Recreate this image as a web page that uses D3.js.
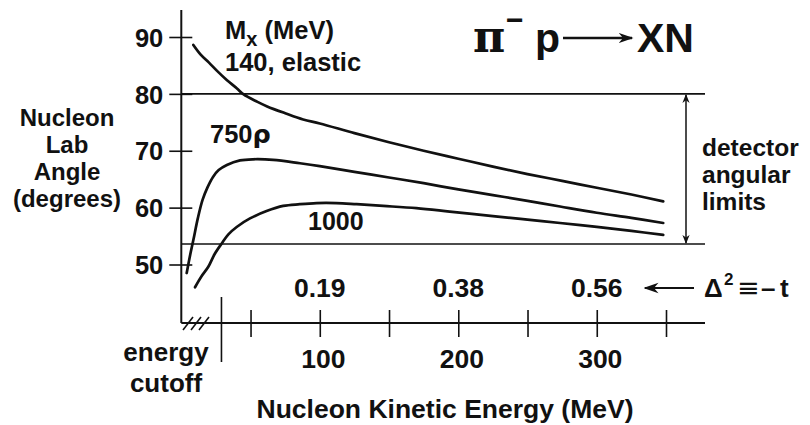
<!DOCTYPE html>
<html>
<head>
<meta charset="utf-8">
<script src="https://cdn.jsdelivr.net/npm/d3@7"></script>
<style>
  body { margin: 0; background: #fff; }
  svg text { font-family: "Liberation Sans", Arial, Helvetica, sans-serif; font-weight: bold; fill: #111; }
</style>
</head>
<body>
<svg id="chart" width="810" height="425"></svg>
<script>
// Recoil nucleon lab angle vs. kinetic energy for pi- p -> X N
const angleTicks = [50, 60, 70, 80, 90];
const energyTicks = [50, 100, 150, 200, 250, 300, 350];
const energyLabels = [100, 200, 300];
const tEnergies = [100, 200, 300];
const tLabels = ["0.19", "0.38", "0.56"];
const detectorLimits = [53.6, 80];
const energyCutoff = 29;

// M_x = 140 MeV (elastic)
const elasticEnergy = [8.7, 14, 20, 26, 33, 40, 45, 55, 62, 75, 88, 100, 125, 150, 175, 200, 225, 250, 275, 300, 325, 348];
const elasticAngle  = [88.6, 86.9, 85.5, 84.0, 82.4, 81.0, 79.9, 78.6, 77.8, 76.6, 75.5, 74.8, 73.1, 71.5, 70.0, 68.6, 67.2, 65.9, 64.7, 63.5, 62.3, 61.1];
// M_x = 750 MeV (rho)
const rhoEnergy = [3.9, 6.5, 8.7, 12, 15.4, 19, 22.9, 27, 32.9, 42.4, 51.8, 66.3, 85.7, 100, 125, 150, 175, 200, 225, 250, 273.5, 300, 325, 348];
const rhoAngle  = [48.5, 51.8, 54.3, 58.2, 61.4, 63.6, 65.4, 66.6, 67.5, 68.3, 68.5, 68.4, 67.8, 67.3, 66.3, 65.3, 64.3, 63.2, 62.2, 61.2, 60.2, 59.1, 58.2, 57.3];
// M_x = 1000 MeV
const m1000Energy = [9.9, 14.5, 19.5, 24, 29.2, 34, 40, 49.6, 61.6, 73.6, 85.6, 97.7, 112, 126.6, 145.8, 169.8, 193.8, 225, 250, 273.5, 300, 325, 348];
const m1000Angle  = [46.0, 47.9, 49.6, 51.8, 53.7, 55.3, 56.6, 58.1, 59.4, 60.3, 60.6, 60.8, 60.8, 60.6, 60.3, 59.9, 59.3, 58.5, 57.9, 57.3, 56.6, 55.9, 55.2];

const yTitleLines = ["Nucleon", "Lab", "Angle", "(degrees)"];
const detectorLines = ["detector", "angular", "limits"];
const cutoffLines = ["energy", "cutoff"];

const series = [
  { energy: elasticEnergy, angle: elasticAngle },
  { energy: rhoEnergy, angle: rhoAngle },
  { energy: m1000Energy, angle: m1000Angle }
];

const svg = d3.select("#chart");
const ink = "#111";
const sans = '"Liberation Sans", Arial, sans-serif';

const x = d3.scaleLinear().domain([0, 350]).range([181.3, 666]);
const y = d3.scaleLinear().domain([50, 90]).range([264.5, 37]);

const axisTop = 10, axisBottom = 323, axisRight = 705;

// axis frame
svg.append("line").attr("x1", x(0)).attr("x2", x(0)).attr("y1", axisTop).attr("y2", axisBottom)
  .attr("stroke", ink).attr("stroke-width", 2);
svg.append("line").attr("x1", x(0)).attr("x2", axisRight).attr("y1", axisBottom).attr("y2", axisBottom)
  .attr("stroke", ink).attr("stroke-width", 1.8);

// y axis ticks and labels
const gy = svg.append("g").attr("transform", `translate(${x(0)},0)`)
  .call(d3.axisLeft(y).tickValues(angleTicks).tickSizeOuter(0));
gy.select(".domain").remove();
gy.selectAll(".tick line").attr("x1", -12).attr("x2", 11).attr("stroke", ink).attr("stroke-width", 1.6);
gy.selectAll(".tick text").attr("x", -18).attr("dy", "0.36em")
  .attr("font-size", 25.5).attr("fill", ink)
  .style("font-family", sans).style("font-weight", "bold");

// x axis ticks and labels
const gx = svg.append("g").attr("transform", `translate(0,${axisBottom})`)
  .call(d3.axisBottom(x).tickValues(energyTicks).tickSizeOuter(0)
    .tickFormat(d => energyLabels.includes(d) ? d : ""));
gx.select(".domain").remove();
gx.selectAll(".tick line").attr("y1", -13).attr("y2", 14).attr("stroke", ink).attr("stroke-width", 1.6);
gx.selectAll(".tick text").attr("y", 45).attr("dy", 0).attr("dx", 3)
  .attr("font-size", 26.5).attr("fill", ink)
  .style("font-family", sans).style("font-weight", "bold");

// energy cutoff marker and hatching on the suppressed part of the axis
svg.append("line").attr("x1", x(energyCutoff)).attr("x2", x(energyCutoff))
  .attr("y1", 297).attr("y2", 362).attr("stroke", ink).attr("stroke-width", 1.6);
[0, 1, 2].forEach(i => {
  const cx = 188 + i * 8;
  svg.append("line").attr("x1", cx - 5).attr("y1", axisBottom + 7).attr("x2", cx + 5).attr("y2", axisBottom - 6)
    .attr("stroke", ink).attr("stroke-width", 1.6);
});

// detector angular limits
detectorLimits.forEach(a => {
  svg.append("line").attr("x1", x(0)).attr("x2", axisRight).attr("y1", y(a)).attr("y2", y(a))
    .attr("stroke", ink).attr("stroke-width", 1.6);
});

const defs = svg.append("defs");
defs.append("marker").attr("id", "head").attr("viewBox", "0 0 10 10")
  .attr("refX", 9).attr("refY", 5).attr("markerWidth", 9).attr("markerHeight", 9)
  .attr("markerUnits", "userSpaceOnUse").attr("orient", "auto-start-reverse")
  .append("path").attr("d", "M0,1 L10,5 L0,9 L3,5 Z").attr("fill", ink);
defs.append("marker").attr("id", "bighead").attr("viewBox", "0 0 10 10")
  .attr("refX", 9).attr("refY", 5).attr("markerWidth", 15).attr("markerHeight", 15)
  .attr("markerUnits", "userSpaceOnUse").attr("orient", "auto")
  .append("path").attr("d", "M0,1.5 L10,5 L0,8.5 L3,5 Z").attr("fill", ink);

svg.append("line").attr("x1", 686).attr("x2", 686)
  .attr("y1", y(detectorLimits[1]) + 1).attr("y2", y(detectorLimits[0]) - 1)
  .attr("stroke", ink).attr("stroke-width", 1.5)
  .attr("marker-start", "url(#head)").attr("marker-end", "url(#head)");

// curves
const line = d3.line().x((d) => x(d[0])).y((d) => y(d[1])).curve(d3.curveCatmullRom.alpha(0.5));
series.forEach(s => {
  const pts = s.energy.map((e, i) => [e, s.angle[i]]);
  svg.append("path").attr("d", line(pts)).attr("fill", "none")
    .attr("stroke", ink).attr("stroke-width", 2.7).attr("stroke-linecap", "round");
});

// text helpers
function label(tx, ty, str, size, anchor) {
  return svg.append("text").attr("x", tx).attr("y", ty).attr("font-size", size)
    .attr("text-anchor", anchor || "start").text(str);
}
function block(tx, ty, lines, size, lead, anchor) {
  const t = svg.append("text").attr("x", tx).attr("y", ty).attr("font-size", size)
    .attr("text-anchor", anchor || "start");
  lines.forEach((s, i) => t.append("tspan").attr("x", tx).attr("dy", i ? lead : 0).text(s));
  return t;
}

// y axis title
block(67, 126, yTitleLines, 24, 27, "middle");

// x axis title
label(445, 418, "Nucleon Kinetic Energy (MeV)", 26.5, "middle");

// energy cutoff label
block(166, 361, cutoffLines, 26, 31, "middle");

// curve labels
const mx = svg.append("text").attr("x", 225).attr("y", 39).attr("font-size", 25.5);
mx.append("tspan").text("M");
mx.append("tspan").attr("dy", 7).attr("font-size", 20).text("x");
mx.append("tspan").attr("dy", -7).text(" (MeV)");
label(225, 71, "140, elastic", 25.5);
const rl = svg.append("text").attr("x", 210).attr("y", 143).attr("font-size", 25.5);
rl.append("tspan").text("750");
rl.append("tspan").style("font-family", '"DejaVu Sans", sans-serif').text("ρ");
label(308, 230, "1000", 25);

// momentum transfer labels
tEnergies.forEach((e, i) => label(x(e), 297, tLabels[i], 26.5, "middle"));
svg.append("line").attr("x1", 694).attr("x2", 645).attr("y1", 288).attr("y2", 288)
  .attr("stroke", ink).attr("stroke-width", 2.2).attr("marker-end", "url(#bighead)");
const dt = svg.append("text").attr("x", 704).attr("y", 297).attr("font-size", 26);
dt.append("tspan").text("Δ");
dt.append("tspan").attr("x", 724).attr("dy", -12).attr("font-size", 17).text("2");
dt.append("tspan").attr("x", 737).attr("dy", 12).attr("font-size", 27)
  .style("font-weight", "normal").style("font-family", '"DejaVu Sans", sans-serif').text("≡");
dt.append("tspan").attr("x", 761).text("–");
dt.append("tspan").attr("x", 780).text("t");

// detector label
block(702, 156, detectorLines, 24.5, 27);

// reaction
svg.append("text").attr("x", 473).attr("y", 52).attr("font-size", 44)
  .style("font-family", '"DejaVu Serif", serif').text("π");
label(506, 30, "−", 30);
label(535, 52, "p", 41);
svg.append("line").attr("x1", 563).attr("x2", 632).attr("y1", 38).attr("y2", 38)
  .attr("stroke", ink).attr("stroke-width", 2.5).attr("marker-end", "url(#bighead)");
label(637, 52, "XN", 41);
</script>
</body>
</html>
